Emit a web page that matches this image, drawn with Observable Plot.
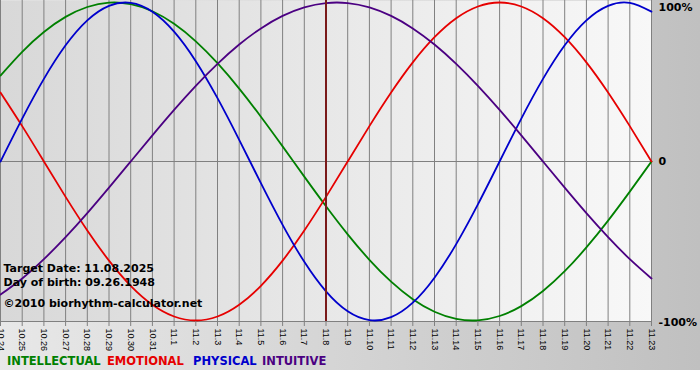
<!DOCTYPE html>
<html><head><meta charset="utf-8">
<script src="https://cdn.jsdelivr.net/npm/d3@7"></script>
<script src="https://cdn.jsdelivr.net/npm/@observablehq/plot@0.6"></script>
<style>
body{margin:0;background:#fff;}
#chart{width:700px;height:370px;background:linear-gradient(to right,#e8e8e8,#c0c0c0);overflow:hidden;}
#chart svg{display:block;}
#legend{position:relative;height:18px;font:bold 11.5px "DejaVu Sans",Verdana,sans-serif;line-height:18px;white-space:nowrap;}
#legend span{position:absolute;top:0;}
</style></head><body>
<div id="chart"></div>
<script>
const dates = ["10.24","10.25","10.26","10.27","10.28","10.29","10.30","10.31","11.1","11.2","11.3","11.4","11.5","11.6","11.7","11.8","11.9","11.10","11.11","11.12","11.13","11.14","11.15","11.16","11.17","11.18","11.19","11.20","11.21","11.22","11.23"];
const intellectual = [0.5406,0.6901,0.8146,0.9096,0.9718,0.9989,0.9898,0.9450,0.8660,0.7557,0.6182,0.4582,0.2817,0.0951,-0.0951,-0.2817,-0.4582,-0.6182,-0.7557,-0.8660,-0.9450,-0.9898,-0.9989,-0.9718,-0.9096,-0.8146,-0.6901,-0.5406,-0.3717,-0.1893,0];
const emotional = [0.4339,0.2225,0,-0.2225,-0.4339,-0.6235,-0.7818,-0.9010,-0.9749,-1,-0.9749,-0.9010,-0.7818,-0.6235,-0.4339,-0.2225,0,0.2225,0.4339,0.6235,0.7818,0.9010,0.9749,1,0.9749,0.9010,0.7818,0.6235,0.4339,0.2225,0];
const physical = [0,0.2698,0.5196,0.7308,0.8879,0.9791,0.9977,0.9423,0.8170,0.6311,0.3984,0.1362,-0.1362,-0.3984,-0.6311,-0.8170,-0.9423,-0.9977,-0.9791,-0.8879,-0.7308,-0.5196,-0.2698,0,0.2698,0.5196,0.7308,0.8879,0.9791,0.9977,0.9423];
const intuitive = [-0.8372,-0.7357,-0.6142,-0.4759,-0.3247,-0.1646,0,0.1646,0.3247,0.4759,0.6142,0.7357,0.8372,0.9158,0.9694,0.9966,0.9966,0.9694,0.9158,0.8372,0.7357,0.6142,0.4759,0.3247,0.1646,0,-0.1646,-0.3247,-0.4759,-0.6142,-0.7357];
const targetDay = "11.8";
const infoLines = ["Target Date: 11.08.2025", "Day of birth: 09.26.1948", "©2010 biorhythm-calculator.net"];
const seriesNames = ["INTELLECTUAL","EMOTIONAL","PHYSICAL","INTUITIVE"];
const seriesColors = ["#008000","#e60000","#0000cc","#4b0082"];
const yTicks = [1, 0, -1];
const yTickText = ["100%", "0", "-100%"];

const legendLeft = [7, 107, 193, 262];
const dayIndex = dates.map((d, i) => i);
const seriesValues = [intellectual, emotional, physical, intuitive];
const vfont = '"DejaVu Sans", Verdana, sans-serif';
const afont = '"Liberation Sans", Arial, sans-serif';
const fmtY = d => yTickText[yTicks.indexOf(d)];
const yAxisOpts = {anchor: "right", tickSize: 0, tickPadding: 7, tickFormat: fmtY, fontWeight: "bold", fontSize: 11, fontFamily: vfont, fill: "#000"};
const textOpts = {text: d => d, frameAnchor: "bottom-left", textAnchor: "start", dx: 3, fontWeight: "bold", fontSize: 11, fontFamily: vfont, fill: "#000"};

const plot = Plot.plot({
  width: 700,
  height: 352,
  marginLeft: 0,
  marginRight: 49,
  marginTop: 2,
  marginBottom: 32,
  style: {background: "transparent", overflow: "visible"},
  x: {domain: [0, dates.length - 1], label: null},
  y: {domain: [-1, 1], label: null},
  marks: [
    Plot.frame({fill: "url(#plotbg)", stroke: "none", insetTop: -2, insetBottom: -1}),
    Plot.ruleX(dayIndex, {stroke: "#808080", strokeWidth: 1, insetTop: -2, insetBottom: -1}),
    Plot.ruleY([0], {stroke: "#808080"}),
    Plot.ruleY([-1], {stroke: "#808080", dy: 1}),
    ...seriesValues.map((vals, i) => Plot.lineY(vals, {x: dayIndex, curve: "natural", stroke: seriesColors[i], strokeWidth: 1.8})),
    Plot.ruleX([dates.indexOf(targetDay)], {stroke: "#7a1a1a", strokeWidth: 2, insetTop: -2, insetBottom: -1}),
    Plot.axisX(dayIndex, {tickFormat: i => dates[i], tickRotate: 90, tickSize: 5, tickPadding: 2, dy: 1, stroke: "#808080", fill: "#000", fontSize: 9, fontFamily: afont, label: null}),
    Plot.axisY([yTicks[0]], {...yAxisOpts, dy: 5}),
    Plot.axisY([yTicks[1]], {...yAxisOpts, dy: 0}),
    Plot.axisY([yTicks[2]], {...yAxisOpts, dy: 2}),
    Plot.text([infoLines[0]], {...textOpts, dy: -49}),
    Plot.text([infoLines[1]], {...textOpts, dy: -35}),
    Plot.text([infoLines[2]], {...textOpts, dy: -14})
  ]
});

const svg = d3.select(plot);
const grad = svg.insert("defs", ":first-child").append("linearGradient").attr("id", "plotbg").attr("x1", "0%").attr("x2", "100%").attr("y1", "0%").attr("y2", "0%");
grad.append("stop").attr("offset", "0%").attr("stop-color", "#d8d8d8");
grad.append("stop").attr("offset", "100%").attr("stop-color", "#f8f8f8");

const chart = document.getElementById("chart");
chart.appendChild(plot);
const legend = document.createElement("div");
legend.id = "legend";
seriesNames.forEach((n, i) => {
  const s = document.createElement("span");
  s.textContent = n;
  s.style.color = seriesColors[i];
  s.style.left = legendLeft[i] + "px";
  legend.appendChild(s);
});
chart.appendChild(legend);
</script>
</body></html>
